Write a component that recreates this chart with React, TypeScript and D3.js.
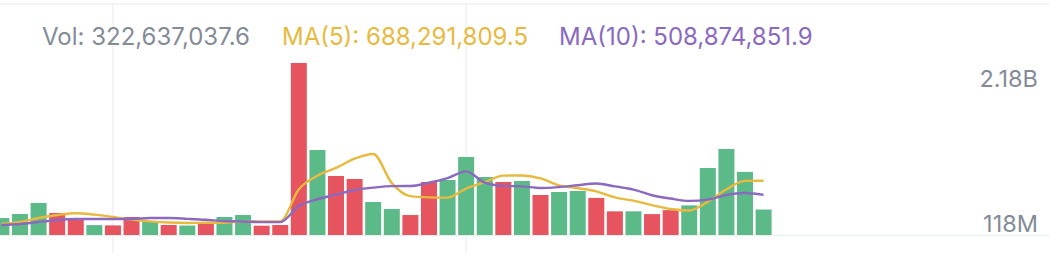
import React from "react";
import * as d3 from "d3";

// ---- data (volumes in millions) ----
const volumes = [215, 266, 406, 279, 215, 125, 122, 228, 165, 127, 120, 139, 228, 253, 118, 127, 2180, 1077, 748, 710, 418, 330, 253, 672, 697, 989, 735, 672, 684, 507, 545, 558, 470, 300, 300, 265, 315, 375, 849, 1090, 800, 322.6];
const directions = ["up", "up", "up", "down", "down", "up", "down", "down", "up", "down", "up", "down", "up", "up", "down", "down", "down", "up", "down", "down", "up", "up", "down", "down", "up", "up", "up", "down", "up", "down", "up", "up", "down", "down", "up", "down", "down", "up", "up", "up", "up", "up"];
const ma5 = [139, 165, 215, 253, 276, 258, 229, 196, 173, 158, 152, 156, 156, 173, 172, 173, 581, 751, 850, 968, 1027, 657, 492, 477, 474, 588, 669, 753, 755, 717, 629, 593, 553, 476, 435, 379, 330, 311, 421, 579, 686, 688.3];
const ma10 = [127, 139, 165, 190, 203, 203, 203, 203, 215, 215, 205, 193, 175, 172, 163, 163, 369, 453, 512, 570, 600, 619, 621, 663, 721, 807, 663, 622, 616, 596, 608, 631, 653, 616, 576, 504, 462, 432, 448, 507, 532, 508.9];
const yTickLabels = ["2.18B", "118M"];
const legendLabels = ["Vol: 322,637,037.6", "MA(5): 688,291,809.5", "MA(10): 508,874,851.9"];
const gridIndices = [6, 25];

const W = 1049;
const H = 253;
const UP = "#5CBA88";
const DOWN = "#E5545F";
const C5 = "#E8B93F";
const C10 = "#8A69BF";
const GRAY = "#838B96";
const FONT = "Inter, 'Noto Sans', sans-serif";

export default function App() {
  const x = d3.scaleLinear().domain([0, volumes.length - 1]).range([1.4, 763.6]);
  const y = d3.scaleLinear().domain([0, 2180]).range([235, 63]);
  const bw = 16;
  const line = d3
    .line<number>()
    .x((_, i) => x(i))
    .y((d) => y(d))
    .curve(d3.curveMonotoneX);
  const gridX = gridIndices.map((i) => x(i));
  return (
    <svg width={W} height={H} style={{ position: "absolute", left: 0, top: 0, background: "#fff" }}>
      <line x1={0} x2={W} y1={4} y2={4} stroke="#EEF0F2" strokeWidth={1.5} />
      {gridX.map((gx, i) => (
        <line key={i} x1={gx} x2={gx} y1={4} y2={H} stroke="#F0F1F3" strokeWidth={1.5} />
      ))}
      <line x1={0} x2={W} y1={y(0) + 0.5} y2={y(0) + 0.5} stroke="#ECEEF0" strokeWidth={1.5} />
      {volumes.map((v, i) => (
        <rect
          key={i}
          x={x(i) - bw / 2}
          y={y(v)}
          width={bw}
          height={y(0) - y(v)}
          fill={directions[i] === "up" ? UP : DOWN}
        />
      ))}
      <path d={line(ma5) || ""} fill="none" stroke={C5} strokeWidth={2.4} />
      <path d={line(ma10) || ""} fill="none" stroke={C10} strokeWidth={2.4} />
      <text x={42} y={45} fontFamily={FONT} fontSize={24} fill={GRAY}>
        {legendLabels[0]}
      </text>
      <text x={282} y={45} fontFamily={FONT} fontSize={24} fill={C5}>
        {legendLabels[1]}
      </text>
      <text x={559} y={45} fontFamily={FONT} fontSize={24} fill={C10}>
        {legendLabels[2]}
      </text>
      <text x={1038} y={y(2180) + 24} textAnchor="end" fontFamily={FONT} fontSize={23.5} fill={GRAY}>
        {yTickLabels[0]}
      </text>
      <text x={1038} y={y(0) - 3} textAnchor="end" fontFamily={FONT} fontSize={23.5} fill={GRAY}>
        {yTickLabels[1]}
      </text>
    </svg>
  );
}
